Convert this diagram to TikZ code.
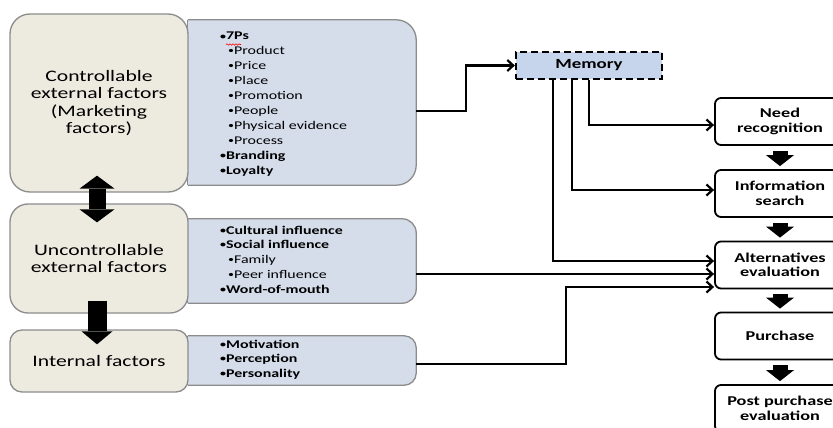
\documentclass[tikz,border=0pt]{standalone}
\usepackage{fontspec}
\setmainfont{Carlito}[FakeStretch=1.35]
\usetikzlibrary{arrows.meta,decorations.pathmorphing}

\definecolor{beige}{HTML}{EDEBE0}
\definecolor{beigeline}{HTML}{8C8C8C}
\definecolor{panelblue}{HTML}{D5DDEB}
\definecolor{memblue}{HTML}{C6D5EC}

\tikzset{
  factor/.style={draw=beigeline, line width=1.3pt, fill=beige, minimum width=178pt,
    align=center, inner sep=0pt, font=\fontsize{16}{17.3}\selectfont},
  panelarea/.style={minimum width=228pt, inner sep=0pt},
  panel/.style={draw=beigeline, line width=1.3pt, fill=panelblue},
  listtext/.style={anchor=base west, inner sep=0pt, font=\fontsize{11.8}{14.9}\selectfont},
  stage/.style={draw=black, line width=1.8pt, fill=white, rounded corners=6pt,
    minimum width=130pt, minimum height=47pt, align=center, inner sep=0pt,
    font=\bfseries\fontsize{13.5}{14.5}\selectfont},
  memorybox/.style={draw=black, line width=2.2pt, dash pattern=on 7pt off 4pt,
    fill=memblue, minimum width=146pt, minimum height=27pt, inner sep=0pt,
    font=\bfseries\fontsize{14}{16}\selectfont},
  link/.style={draw=black, line width=2.2pt, -{Straight Barb[length=6pt,width=11pt]}},
  stepflow/.style={draw=black, line width=15pt,
    -{Triangle[length=11pt,width=28pt,line width=0pt]}},
}

% small list bullet and indented sub-item
\newcommand\lbul{\raisebox{0.08em}{\scalebox{0.75}{•}}}
\newcommand\lsub{\hspace*{8pt}\lbul}

% blue list panel: square left edge, rounded right corners
\newcommand\listpanel[2]{%
  \begin{scope}
    \clip ([yshift=3pt]#1.north west) rectangle ([xshift=3pt,yshift=-3pt]#1.south east);
    \draw[panel, rounded corners=#2] ([xshift=-40pt]#1.north west) rectangle (#1.south east);
  \end{scope}
  \draw[draw=beigeline, line width=1.3pt] (#1.north west) -- (#1.south west);
}

\begin{document}
\begin{tikzpicture}[x=1pt, y=-1pt]
  \useasboundingbox (0,0) rectangle (833,428);
  \fill[white] (0,0) rectangle (833,428);
  \clip (0,0) rectangle (833,428);

  % list panels
  \node[panelarea, minimum height=165pt] (ps) at (302,102.5) {};
  \node[panelarea, minimum height=84pt] (cul) at (302,261) {};
  \node[panelarea, minimum height=49pt] (mot) at (302,360.5) {};
  \listpanel{ps}{20pt}
  \listpanel{cul}{14pt}
  \listpanel{mot}{12pt}

  % factor groups
  \node[factor, minimum height=178pt, rounded corners=20pt] (ctrl) at (99,103)
    {Controllable\\external factors\\(Marketing\\factors)};
  \node[factor, minimum height=109pt, rounded corners=18pt] (unc) at (99,258.5)
    {Uncontrollable\\external factors};
  \node[factor, minimum height=62pt, rounded corners=12pt] (int) at (99,361)
    {Internal factors};

  % panel contents
  \node[listtext] (pslist) at (220,40) {\begin{tabular}[t]{@{}l@{}}
    \textbf{\lbul 7Ps}\\
    \lsub Product\\
    \lsub Price\\
    \lsub Place\\
    \lsub Promotion\\
    \lsub People\\
    \lsub Physical evidence\\
    \lsub Process\\
    \textbf{\lbul Branding}\\
    \textbf{\lbul Loyalty}
  \end{tabular}};
  \draw[red, line width=0.6pt, decorate,
    decoration={snake, amplitude=0.7pt, segment length=3pt}] (226,44.5) -- (241,44.5);

  \node[listtext] (cullist) at (220,234) {\begin{tabular}[t]{@{}l@{}}
    \textbf{\lbul Cultural influence}\\
    \textbf{\lbul Social influence}\\
    \lsub Family\\
    \lsub Peer influence\\
    \textbf{\lbul Word-of-mouth}
  \end{tabular}};

  \node[listtext] (motlist) at (220,348) {\begin{tabular}[t]{@{}l@{}}
    \textbf{\lbul Motivation}\\
    \textbf{\lbul Perception}\\
    \textbf{\lbul Personality}
  \end{tabular}};

  % links between the factor groups
  \draw[draw=black, line width=17pt,
    {Triangle[length=13pt,width=35pt,line width=0pt]}-{Triangle[length=13pt,width=35pt,line width=0pt]}]
    ([xshift=-2pt,yshift=17pt]ctrl.south) -- ([xshift=-2pt,yshift=-19pt]unc.north);
  \draw[draw=black, line width=19pt, -{Triangle[length=13pt,width=31pt,line width=0pt]}]
    ([xshift=-2pt,yshift=13pt]unc.south) -- ([xshift=-2pt,yshift=-15pt]int.north);

  % memory
  \node[memorybox] (mem) at (589,65.5) {Memory};

  % decision stages
  \node[stage] (need) at (780,121.5) {Need\\recognition};
  \node[stage] (info) at (780,193.5) {Information\\search};
  \node[stage] (alt) at (780,265) {Alternatives\\evaluation};
  \node[stage] (buy) at (780,336) {Purchase};
  \node[stage] (post) at (780,408.5) {Post purchase\\evaluation};

  \draw[stepflow] ([yshift=-5pt]need.south) -- ([yshift=3pt]info.north);
  \draw[stepflow] ([yshift=-5pt]info.south) -- ([yshift=3pt]alt.north);
  \draw[stepflow] ([yshift=-5pt]alt.south) -- ([yshift=3pt]buy.north);
  \draw[stepflow] ([yshift=-5pt]buy.south) -- ([yshift=3pt]post.north);

  % information flow
  \draw[link] ([yshift=-8.5pt]ps.east) -- ++(50,0) |- (mem.west);
  \draw[link] (mem.south) |- ([yshift=-3.5pt]need.west);
  \draw[link] ([xshift=-17pt]mem.south) |- ([yshift=3.5pt]info.west);
  \draw[link] ([xshift=-36pt]mem.south) |- ([yshift=4pt]alt.west);
  \draw[link] ([yshift=-9pt]alt.west -| cul.east) -- ([yshift=-9pt]alt.west);
  \draw[link] ([yshift=-3.5pt]mot.east) -- ++(150,0) |- ([yshift=-22pt]alt.west);
\end{tikzpicture}
\end{document}
